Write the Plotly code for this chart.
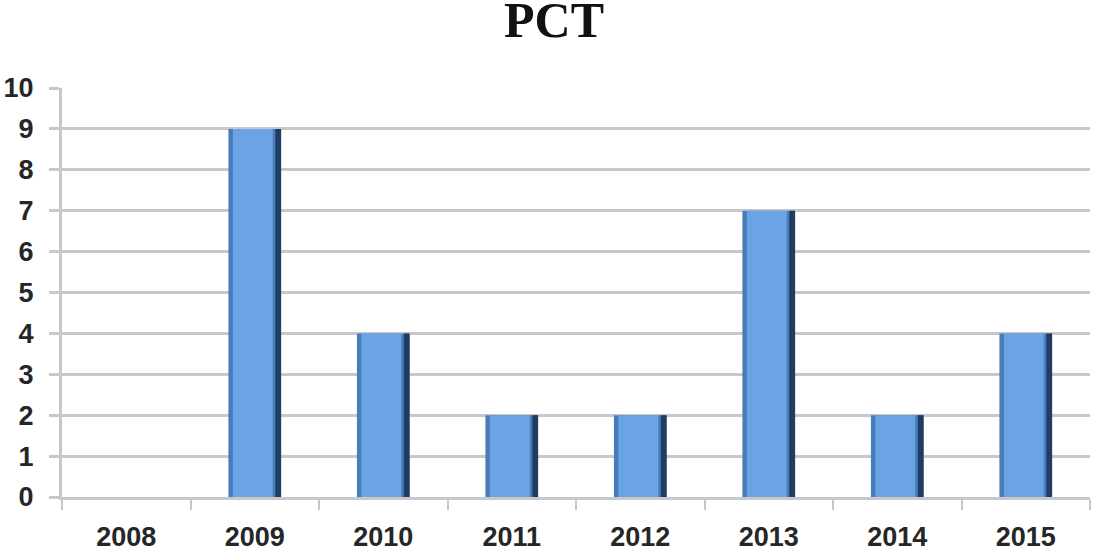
import plotly.graph_objects as go

years = ["2008", "2009", "2010", "2011", "2012", "2013", "2014", "2015"]
values = [0, 9, 4, 2, 2, 7, 2, 4]
y_ticks = [0, 1, 2, 3, 4, 5, 6, 7, 8, 9, 10]

W = 0.41
fig = go.Figure()
# base bar (left/bottom bevel tone)
fig.add_trace(go.Bar(x=years, y=values, width=W, marker=dict(color="#4a7cbc", line=dict(width=0)),
                     hoverinfo="x+y"))
# dark right edge
fig.add_trace(go.Bar(x=years, y=values, width=0.045, offset=W / 2 - 0.045,
                     marker=dict(color="#1f3d63", line=dict(width=0)), hoverinfo="skip"))
# inner light face
fig.add_trace(go.Bar(x=years, y=values, width=W - 0.10, offset=-W / 2 + 0.035,
                     marker=dict(color="#6aa4e4", line=dict(width=0)), hoverinfo="skip"))

fig.update_layout(
    width=1096, height=552,
    barmode="overlay",
    showlegend=False,
    plot_bgcolor="white", paper_bgcolor="white",
    margin=dict(l=62, r=6, t=88, b=55, autoexpand=False),
    title=dict(text="<b>PCT</b>", x=554 / 1096, xanchor="center", y=1 - 19 / 552, yanchor="middle",
               yref="container", font=dict(family="Liberation Serif", size=50, color="#111111")),
    font=dict(family="Liberation Sans", color="#262626"),
)
fig.update_xaxes(
    type="category", showgrid=False, showline=True, linecolor="#c8c8c8", linewidth=3,
    ticks="outside", tickson="boundaries", ticklen=10, tickcolor="#c8c8c8", tickwidth=2,
    tickfont=dict(family="Liberation Sans", size=27, color="#262626", weight="bold"),
    ticklabelstandoff=14,
)
fig.update_yaxes(
    range=[0, 10], tickvals=y_ticks, showgrid=True, gridcolor="#c8c8c8", gridwidth=2.5,
    showline=True, linecolor="#c8c8c8", linewidth=3, zeroline=False,
    ticks="outside", ticklen=10, tickcolor="#c8c8c8", tickwidth=2.5,
    tickfont=dict(family="Liberation Sans", size=27, color="#262626", weight="bold"),
    ticklabelstandoff=10,
)
fig.write_html("out.html", config={"displayModeBar": False},
               post_script="document.body.style.margin='0';")
